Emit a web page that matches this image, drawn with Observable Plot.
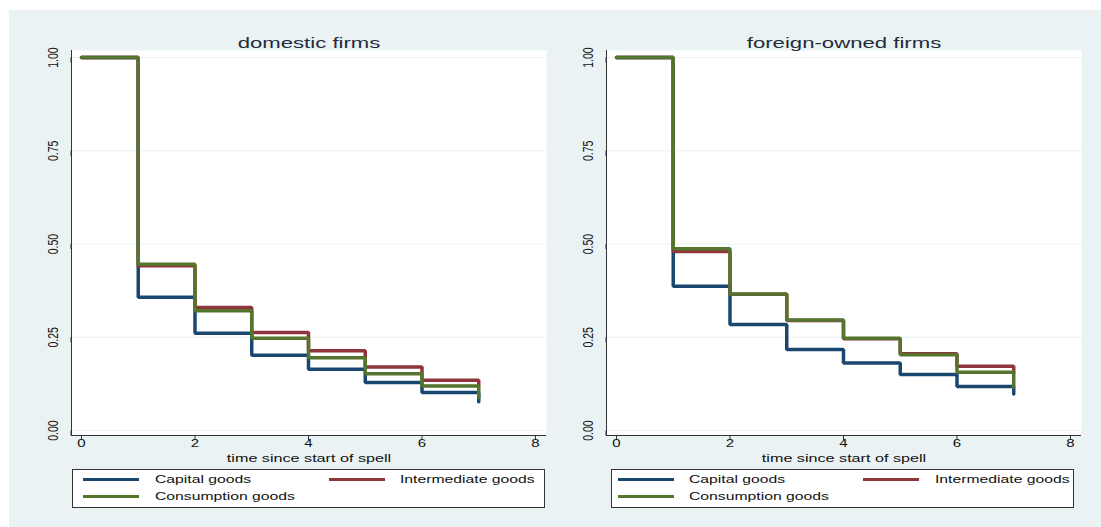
<!DOCTYPE html>
<html>
<head>
<meta charset="utf-8">
<script src="https://cdn.jsdelivr.net/npm/d3@7"></script>
<script src="https://cdn.jsdelivr.net/npm/@observablehq/plot@0.6"></script>
<style>
  html, body { margin: 0; padding: 0; background: #ffffff; }
  #page { position: relative; width: 1101px; height: 527px; overflow: hidden; font-family: "Liberation Sans", Arial, sans-serif; }
  #bg { position: absolute; left: 9px; top: 10px; right: 0; bottom: 0; background: #eaf2f3; }
  .panel { position: absolute; top: 10px; }
  .legend { position: absolute; background: #fff; border: 1px solid #333; box-sizing: border-box; }
  .sw { position: absolute; height: 3px; }
  .lt { position: absolute; font-size: 11px; line-height: 11px; color: #111; white-space: nowrap; transform: scaleX(1.43); transform-origin: left center; }
</style>
</head>
<body>
<div id="page"><div id="bg"></div></div>
<script>
// ---- data (Kaplan-Meier style survival estimates) ----
const times = [0, 1, 2, 3, 4, 5, 6, 7];
const seriesNames = ["Capital goods", "Intermediate goods", "Consumption goods"];
const seriesColors = ["#1a476f", "#90353b", "#55752f"];
const panelTitles = ["domestic firms", "foreign-owned firms"];
const xLabel = "time since start of spell";
const xTicks = [0, 2, 4, 6, 8];
const yTicks = [0, 0.25, 0.5, 0.75, 1];

const domCapital      = [1, 0.357, 0.261, 0.202, 0.164, 0.129, 0.102, 0.077];
const domIntermediate = [1, 0.442, 0.330, 0.263, 0.214, 0.170, 0.135, 0.120];
const domConsumption  = [1, 0.446, 0.321, 0.247, 0.195, 0.152, 0.119, 0.088];
const forCapital      = [1, 0.387, 0.284, 0.217, 0.181, 0.150, 0.118, 0.098];
const forIntermediate = [1, 0.480, 0.365, 0.295, 0.246, 0.206, 0.172, 0.155];
const forConsumption  = [1, 0.487, 0.366, 0.296, 0.247, 0.203, 0.156, 0.116];

const panels = [
  {title: panelTitles[0], series: [domCapital, domIntermediate, domConsumption], left: 9},
  {title: panelTitles[1], series: [forCapital, forIntermediate, forConsumption], left: 544}
];

const xDom = [-0.176, 8.194];
const yDom = [-0.0134, 1.0188];
const STRETCH = 1.43;

function stretchText(svg, k) {
  svg.querySelectorAll("text").forEach(t => {
    let tr = t.getAttribute("transform") || "";
    const x = t.getAttribute("x"), y = t.getAttribute("y");
    if (x !== null || y !== null) {
      tr += ` translate(${+x || 0},${+y || 0})`;
      t.removeAttribute("x"); t.removeAttribute("y");
    }
    tr += /rotate/.test(tr) ? ` scale(1,${k})` : ` scale(${k},1)`;
    t.setAttribute("transform", tr.trim());
  });
}

const page = document.getElementById("page");

panels.forEach((p, pi) => {
  const rows = [];
  p.series.forEach((vals, si) => {
    times.forEach((t, i) => rows.push({t, s: vals[i], g: seriesNames[si]}));
  });
  const chart = Plot.plot({
    width: 537,
    height: 465,
    marginLeft: 62,
    marginRight: 0,
    marginTop: 40,
    marginBottom: 40,
    style: {background: "transparent", fontFamily: "'Liberation Sans', Arial, sans-serif", color: "#222", overflow: "visible"},
    x: {domain: xDom, ticks: xTicks},
    y: {domain: yDom, ticks: yTicks},
    color: {domain: seriesNames, range: seriesColors},
    marks: [
      Plot.frame({fill: "white", stroke: null}),
      Plot.gridY(yTicks, {stroke: "#eaf2f3", strokeOpacity: 1, strokeWidth: 1}),
      Plot.ruleX([xDom[0]], {stroke: "#333", strokeWidth: 1}),
      Plot.ruleY([yDom[0]], {stroke: "#333", strokeWidth: 1}),
      Plot.axisX(xTicks, {tickSize: 5, tickPadding: 6, fontSize: 10.5, stroke: "#333", fill: "#111", label: null}),
      Plot.axisY(yTicks, {tickSize: 5, tickPadding: 9, fontSize: 10.5, rotate: -90, textAnchor: "middle",
        tickFormat: d3.format(".2f"), stroke: "#333", fill: "#111", label: null}),
      Plot.line(rows, {x: "t", y: "s", z: "g", stroke: "g", curve: "step-after",
        strokeWidth: 3.5, strokeLinecap: "round", strokeLinejoin: "miter"}),
      Plot.text([p.title], {frameAnchor: "top", dy: -3, lineAnchor: "bottom", fontSize: 15.5, fill: "#1f2d3d"}),
      Plot.text([xLabel], {frameAnchor: "bottom", dy: 26, lineAnchor: "bottom", fontSize: 11.3, fill: "#111"})
    ]
  });
  stretchText(chart, STRETCH);
  chart.classList.add("panel");
  chart.style.position = "absolute";
  chart.style.left = p.left + "px";
  chart.style.top = "10px";
  page.appendChild(chart);
});

// ---- legends (HTML, below each plot) ----
const legends = [
  {left: 72, width: 473, cols: [83, 329], texts: [155, 400]},
  {left: 611, width: 463, cols: [618, 863], texts: [689, 935]}
];
const entryPos = [[0, 0], [1, 0], [0, 1]]; // [column, row]
legends.forEach(L => {
  const box = document.createElement("div");
  box.className = "legend";
  box.style.left = L.left + "px";
  box.style.top = "469px";
  box.style.width = L.width + "px";
  box.style.height = "39px";
  page.appendChild(box);
  seriesNames.forEach((name, i) => {
    const [c, r] = entryPos[i];
    const cy = 479 + r * 17;
    const sw = document.createElement("div");
    sw.className = "sw";
    sw.style.left = L.cols[c] + "px";
    sw.style.width = "56px";
    sw.style.top = (cy - 1.5) + "px";
    sw.style.background = seriesColors[i];
    page.appendChild(sw);
    const tx = document.createElement("div");
    tx.className = "lt";
    tx.style.left = L.texts[c] + "px";
    tx.style.top = (cy - 5.5) + "px";
    tx.textContent = name;
    page.appendChild(tx);
  });
});
</script>
</body>
</html>
